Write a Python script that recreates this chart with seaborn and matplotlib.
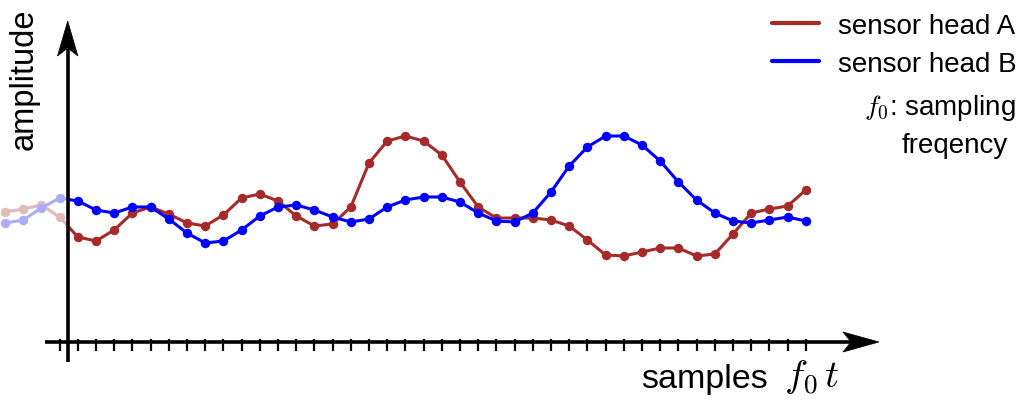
import matplotlib
matplotlib.use("Agg")
import matplotlib.pyplot as plt
import numpy as np
import pandas as pd
import seaborn as sns
from matplotlib.lines import Line2D
from matplotlib.patches import Polygon

# ---- data ----
samples = list(range(45))
sensor_a = [1.30, 1.33, 1.37, 1.25, 1.05, 1.01, 1.12, 1.29, 1.35, 1.28,
            1.19, 1.16, 1.27, 1.44, 1.48, 1.41, 1.26, 1.16, 1.18, 1.35,
            1.79, 2.01, 2.06, 2.01, 1.87, 1.60, 1.35, 1.24, 1.24, 1.24,
            1.22, 1.16, 1.02, 0.87, 0.86, 0.90, 0.94, 0.94, 0.86, 0.88,
            1.08, 1.29, 1.33, 1.36, 1.52]
sensor_b = [1.19, 1.22, 1.34, 1.44, 1.41, 1.32, 1.29, 1.35, 1.35, 1.23,
            1.09, 0.99, 1.01, 1.12, 1.26, 1.35, 1.37, 1.32, 1.25, 1.20,
            1.23, 1.35, 1.42, 1.45, 1.45, 1.40, 1.29, 1.21, 1.20, 1.29,
            1.50, 1.76, 1.95, 2.06, 2.06, 1.97, 1.81, 1.60, 1.42, 1.29,
            1.21, 1.19, 1.22, 1.25, 1.21]
series_names = ["sensor head A", "sensor head B"]
series_colors = ["#a52a2a", "#0000ff"]
tick_samples = list(range(3, 45))
axis_origin = 3.45  # sample position of the vertical axis

sns.set_theme(style="white")
plt.rcParams["font.family"] = ["Liberation Sans", "DejaVu Sans"]
plt.rcParams["mathtext.fontset"] = "cm"
plt.rcParams["text.color"] = "black"

df = pd.DataFrame({
    "sample": samples * 2,
    "amplitude": sensor_a + sensor_b,
    "series": [n for n in series_names for _ in samples],
})

W, H = 1021, 402
fig = plt.figure(figsize=(W / 100, H / 100), dpi=100, facecolor="white")
ax = fig.add_axes([0, 0, 1, 1])

def px(p):
    return (p - 5) / 18.2

def py(q):
    return (343 - q) / 100

sns.lineplot(data=df, x="sample", y="amplitude", hue="series",
             palette=dict(zip(series_names, series_colors)),
             marker="o", markersize=6.8, markeredgewidth=0,
             linewidth=2.2, legend=False, ax=ax, sort=False, zorder=2)

ax.set_xlim(px(0), px(W))
ax.set_ylim(py(H), py(0))
ax.set_axis_off()

# fade region left of the vertical axis
ax.axvspan(px(0), axis_origin, color="white", alpha=0.68, lw=0, zorder=3)

# axes with arrows
ax.plot([axis_origin, axis_origin], [py(363), py(50)], color="black",
        lw=2.6, solid_capstyle="butt", zorder=5)
ax.add_patch(Polygon([(px(67.7), py(22)), (px(57.5), py(57)),
                      (px(67.7), py(49)), (px(77.9), py(57))],
                     closed=True, fc="black", ec="black", lw=0.5, zorder=5))
ax.plot([px(45), px(852)], [0, 0], color="black", lw=2.6,
        solid_capstyle="butt", zorder=5)
ax.add_patch(Polygon([(px(879), py(343)), (px(843), py(333)),
                      (px(851), py(343)), (px(843), py(353))],
                     closed=True, fc="black", ec="black", lw=0.5, zorder=5))
ax.vlines(tick_samples, py(352), py(340), colors="black", lw=1.6, zorder=5)

# labels
fig.text(24 / W, 1 - 79 / H, "amplitude", rotation=90, ha="center",
         va="center", fontsize=23.5)
fig.text(704 / W, 1 - 388 / H, "samples", ha="center", va="baseline",
         fontsize=24.5)
fig.text(784 / W, 1 - 388 / H, r"$f_0\,t$", ha="left", va="baseline",
         fontsize=28)

handles = [Line2D([], [], color=c, lw=3) for c in series_colors]
ax.legend(handles=handles, labels=series_names, loc="upper left",
          bbox_to_anchor=(772 / W, 1 - 13.5 / H), bbox_transform=fig.transFigure,
          frameon=False, fontsize=20, handlelength=1.7, handletextpad=0.66,
          borderpad=0, borderaxespad=0, labelspacing=0.445)

fig.text(1016 / W, 1 - 108 / H, r"$f_0$: sampling", ha="right",
         va="center", fontsize=20)
fig.text(1008 / W, 1 - 146 / H, "freqency", ha="right", va="center",
         fontsize=20)

fig.savefig("out.png", dpi=100, facecolor="white")
